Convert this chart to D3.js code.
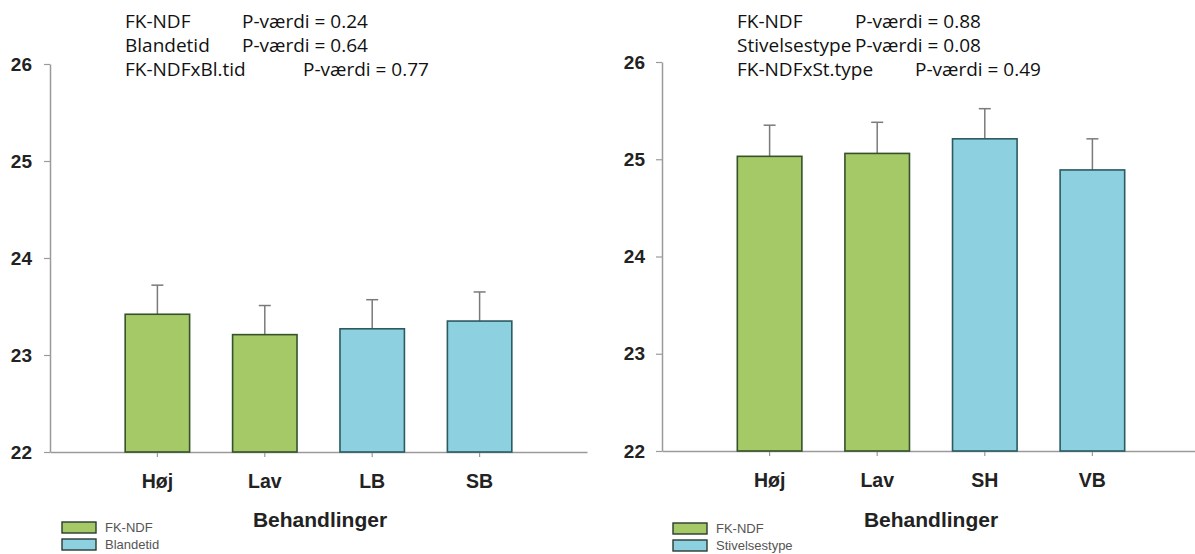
<!DOCTYPE html>
<html>
<head>
<meta charset="utf-8">
<script src="https://cdn.jsdelivr.net/npm/d3@7"></script>
<style>
  html, body { margin: 0; padding: 0; background: #ffffff; }
  svg { display: block; }
</style>
</head>
<body>
<svg id="chart" width="1195" height="554"></svg>
<script>
// ---------- data ----------
const leftCategories = ["Høj", "Lav", "LB", "SB"];
const leftValues = [23.42, 23.21, 23.27, 23.35];
const leftErrors = [0.30, 0.30, 0.30, 0.30];
const leftGroups = ["FK-NDF", "FK-NDF", "Blandetid", "Blandetid"];
const leftLegend = ["FK-NDF", "Blandetid"];
const leftStatLabels = ["FK-NDF", "Blandetid", "FK-NDFxBl.tid"];
const leftStatValues = ["P-værdi = 0.24", "P-værdi = 0.64", "P-værdi = 0.77"];

const rightCategories = ["Høj", "Lav", "SH", "VB"];
const rightValues = [25.03, 25.06, 25.21, 24.89];
const rightErrors = [0.32, 0.32, 0.31, 0.32];
const rightGroups = ["FK-NDF", "FK-NDF", "Stivelsestype", "Stivelsestype"];
const rightLegend = ["FK-NDF", "Stivelsestype"];
const rightStatLabels = ["FK-NDF", "Stivelsestype", "FK-NDFxSt.type"];
const rightStatValues = ["P-værdi = 0.88", "P-værdi = 0.08", "P-værdi = 0.49"];

const yTicks = [22, 23, 24, 25, 26];
const yDomain = [22, 26];
const xTitle = "Behandlinger";

// ---------- styles ----------
const fillFor = (i) => i === 0 ? "#a5c966" : "#8dd0df";
const strokeFor = (i) => i === 0 ? "#35522b" : "#2b5a61";
const axisColor = "#9a9a9a";
const errColor = "#7a7a7a";

const svg = d3.select("#chart");

function drawPanel(cfg) {
  const g = svg.append("g");
  const x = d3.scaleBand()
    .domain(cfg.categories)
    .range([cfg.x0, cfg.x1])
    .paddingInner(0.4)
    .paddingOuter(0.7);
  const y = d3.scaleLinear().domain(yDomain).range([cfg.yBottom, cfg.yTop]);

  // y axis
  const yAxis = g.append("g")
    .attr("transform", `translate(${cfg.x0},0)`)
    .call(d3.axisLeft(y).tickValues(yTicks).tickFormat(d3.format("d"))
      .tickSize(6).tickSizeOuter(0).tickPadding(cfg.yPad));
  yAxis.select(".domain").attr("stroke", axisColor).attr("stroke-width", 1.5);
  yAxis.selectAll(".tick line").attr("stroke", axisColor).attr("stroke-width", 1.2);
  yAxis.selectAll(".tick text")
    .attr("fill", "#222")
    .style("font-family", "'Liberation Sans', Arial, sans-serif")
    .style("font-weight", "bold")
    .style("font-size", "19px");

  // x axis
  const xAxis = g.append("g")
    .attr("transform", `translate(0,${cfg.yBottom})`)
    .call(d3.axisBottom(x).tickSize(5).tickSizeOuter(0).tickPadding(17));
  xAxis.select(".domain").attr("stroke", axisColor).attr("stroke-width", 1.5);
  xAxis.selectAll(".tick line").attr("stroke", axisColor).attr("stroke-width", 1.2);
  xAxis.selectAll(".tick text")
    .attr("fill", "#222")
    .style("font-family", "'Liberation Sans', Arial, sans-serif")
    .style("font-weight", "bold")
    .style("font-size", "19.5px");

  // bars
  const data = cfg.categories.map((c, i) => ({
    c, v: cfg.values[i], e: cfg.errors[i], gi: cfg.legend.indexOf(cfg.groups[i])
  }));

  // error bars (upper only)
  const eb = g.append("g");
  eb.selectAll("line.stem").data(data).enter().append("line")
    .attr("x1", d => x(d.c) + x.bandwidth() / 2)
    .attr("x2", d => x(d.c) + x.bandwidth() / 2)
    .attr("y1", d => y(d.v))
    .attr("y2", d => y(d.v + d.e))
    .attr("stroke", errColor).attr("stroke-width", 1.5);
  eb.selectAll("line.cap").data(data).enter().append("line")
    .attr("x1", d => x(d.c) + x.bandwidth() / 2 - 6)
    .attr("x2", d => x(d.c) + x.bandwidth() / 2 + 6)
    .attr("y1", d => y(d.v + d.e))
    .attr("y2", d => y(d.v + d.e))
    .attr("stroke", errColor).attr("stroke-width", 1.5);

  g.append("g").selectAll("rect").data(data).enter().append("rect")
    .attr("x", d => x(d.c))
    .attr("y", d => y(d.v))
    .attr("width", x.bandwidth())
    .attr("height", d => y(yDomain[0]) - y(d.v))
    .attr("fill", d => fillFor(d.gi))
    .attr("stroke", d => strokeFor(d.gi))
    .attr("stroke-width", 1.6);

  // x title
  g.append("text")
    .attr("x", cfg.titleX)
    .attr("y", 527)
    .attr("text-anchor", "middle")
    .attr("fill", "#222")
    .style("font-family", "'Liberation Sans', Arial, sans-serif")
    .style("font-weight", "bold")
    .style("font-size", "21px")
    .text(xTitle);

  // legend
  const lg = g.append("g");
  cfg.legend.forEach((name, i) => {
    lg.append("rect")
      .attr("x", cfg.legendX).attr("y", cfg.legendY + i * 17)
      .attr("width", 34).attr("height", 11)
      .attr("fill", fillFor(i)).attr("stroke", "#2a3a30").attr("stroke-width", 1.4);
    lg.append("text")
      .attr("x", cfg.legendX + 43).attr("y", cfg.legendY + i * 17 + 10)
      .attr("fill", "#555")
      .style("font-family", "'Liberation Sans', Arial, sans-serif")
      .style("font-size", "13px")
      .text(name);
  });

  // stats annotations
  const sg = g.append("g")
    .style("font-family", "'Open Sans', 'Noto Sans', sans-serif")
    .style("font-size", "19px")
    .attr("fill", "#111");
  cfg.statLabels.forEach((lab, i) => {
    sg.append("text").attr("x", cfg.statX).attr("y", 28 + i * 24).text(lab);
    sg.append("text")
      .attr("x", i === 2 ? cfg.statVX2 : cfg.statVX)
      .attr("y", 28 + i * 24).text(cfg.statValues[i]);
  });
}

drawPanel({
  categories: leftCategories, values: leftValues, errors: leftErrors,
  groups: leftGroups, legend: leftLegend,
  statLabels: leftStatLabels, statValues: leftStatValues,
  x0: 50, x1: 587, yBottom: 452, yTop: 64, yPad: 12,
  titleX: 320, legendX: 62, legendY: 522,
  statX: 125, statVX: 242, statVX2: 303
});

drawPanel({
  categories: rightCategories, values: rightValues, errors: rightErrors,
  groups: rightGroups, legend: rightLegend,
  statLabels: rightStatLabels, statValues: rightStatValues,
  x0: 662, x1: 1200, yBottom: 451, yTop: 62, yPad: 11,
  titleX: 931, legendX: 673, legendY: 523,
  statX: 737, statVX: 855, statVX2: 915
});
</script>
</body>
</html>
